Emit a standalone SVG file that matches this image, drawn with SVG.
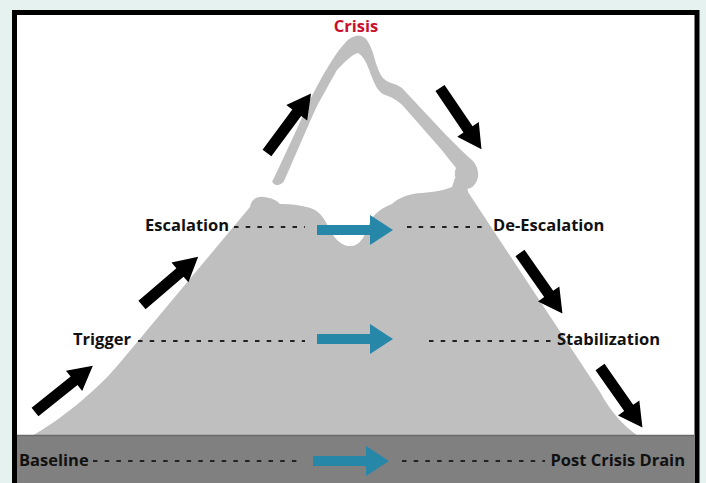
<svg xmlns="http://www.w3.org/2000/svg" width="706" height="483" viewBox="0 0 706 483">
<style>
.lbl{font-family:"Open Sans","Liberation Sans",sans-serif;font-weight:700;font-size:16.5px;fill:#111}
.crisis{fill:#c8102e}
.dash{stroke:#222;stroke-width:2;stroke-dasharray:4.5 7.2;fill:none}
.blk{fill:#000}
.blu{fill:#2787a8}
.mtn{fill:#bfbfbf}
</style>
<defs>
<path id="ba" d="M0,-5.5 H50 V-13 L74,0 L50,13 V5.5 H0 Z"/>
<path id="bl" d="M0,-5 H53 V-15 L76,0 L53,15 V5 H0 Z"/>
</defs>
<rect x="0" y="0" width="706" height="483" fill="#e6f2f0"/>
<rect x="14.5" y="12.5" width="682.5" height="500" fill="#fff" stroke="#000" stroke-width="5"/>
<g id="mountain">
<path class="mtn" d="M32,436 C60,420 95,392 118,365 L250,207 C251,200 256,196 264,197 C272,198 276,200 280,204 C290,204 305,205 315,210 C322,214 326,222 330,230 C336,242 345,247 352,246 C362,245 366,232 370,222 C374,213 382,208 392,204 C398,198 410,193 422,193 C435,192 445,190 452,187 L455,178 L466,178 L468,192 L600,392 Q615,420 638,436 Z"/>
<path class="mtn" d="M273,180 C285,155 300,122 310,100 C320,80 333,56 345,43 C350,37 356,35 361,36 C367,37 370,45 373,53 C376,64 379,74 384,79 C389,84 396,83 402,88 L446,135 C456,145 465,154 473,161 C479,168 480,178 475,184 C472,189 466,190 462,187 C456,182 453,175 456,168 C451,162 446,155 440,148 L404,107 C398,100 391,97 385,95 C378,92 375,85 371,75 C368,66 364,56 358,53 C352,54 345,62 337,70 C330,82 325,92 318,104 C308,125 298,150 284,181 C281,186 275,186 273,183 C272,182 272,181 273,180 Z"/>
</g>
<rect x="17" y="436" width="677" height="47" fill="#808080"/>
<line x1="17" y1="435.5" x2="694" y2="435.5" stroke="#6a6a6a" stroke-width="1.5"/>
<g id="connectors">
<line class="dash" x1="234" y1="227" x2="305" y2="227"/>
<line class="dash" x1="407" y1="227" x2="488" y2="227"/>
<line class="dash" x1="138" y1="341" x2="305" y2="341"/>
<line class="dash" x1="429" y1="341" x2="554" y2="341"/>
<line class="dash" x1="93" y1="461" x2="298" y2="461"/>
<line class="dash" x1="402" y1="461" x2="545" y2="461"/>
<use href="#bl" class="blu" transform="translate(317,230)"/>
<use href="#bl" class="blu" transform="translate(317,339)"/>
<use href="#bl" class="blu" transform="translate(313,461)"/>
<use href="#ba" class="blk" transform="translate(35,412) rotate(-38.6)"/>
<use href="#ba" class="blk" transform="translate(142,305) rotate(-40.6)"/>
<use href="#ba" class="blk" transform="translate(267,153) rotate(-53.5)"/>
<use href="#ba" class="blk" transform="translate(440,88) rotate(55.9)"/>
<use href="#ba" class="blk" transform="translate(520,253) rotate(55)"/>
<use href="#ba" class="blk" transform="translate(600,367) rotate(55)"/>
</g>
<g id="crisis"><text class="lbl crisis" x="356" y="32" text-anchor="middle">Crisis</text></g>
<g id="escalation"><text class="lbl" x="145" y="231">Escalation</text></g>
<g id="de-escalation"><text class="lbl" x="493" y="231">De-Escalation</text></g>
<g id="trigger"><text class="lbl" x="73" y="345">Trigger</text></g>
<g id="stabilization"><text class="lbl" x="557" y="345">Stabilization</text></g>
<g id="baseline"><text class="lbl" x="19" y="466">Baseline</text></g>
<g id="post-crisis-drain"><text class="lbl" x="685" y="466" text-anchor="end">Post Crisis Drain</text></g>
</svg>
